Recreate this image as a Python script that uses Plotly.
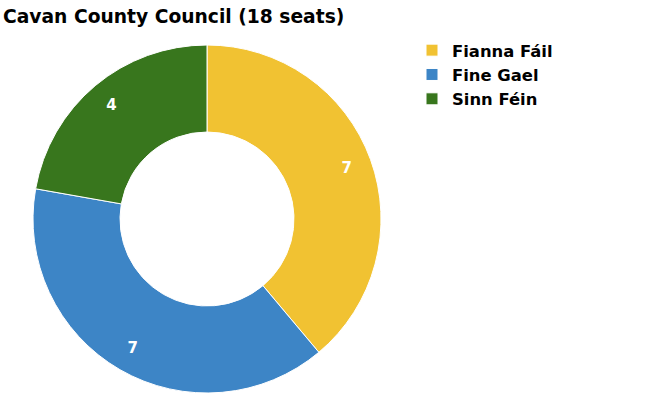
import plotly.graph_objects as go

parties = ["Fianna Fáil", "Fine Gael", "Sinn Féin"]
seats = [7, 7, 4]
colors = ["#F1C232", "#3D85C6", "#38761D"]
title = "Cavan County Council (18 seats)"

W, H = 650, 397
cx, cy, R = 207, 219, 174
dom = dict(x=[(cx - R) / W, (cx + R) / W], y=[(H - cy - R) / H, (H - cy + R) / H])
FONT = "DejaVu Sans"

fig = go.Figure()
fig.add_trace(go.Pie(
    labels=parties, values=seats, hole=0.5, sort=False,
    direction="clockwise", rotation=0,
    marker=dict(colors=colors, line=dict(color="white", width=1)),
    textinfo="none", domain=dom, hoverinfo="label+value",
))
# label layer: same slices, drawn transparent, so the numbers sit further out
fig.add_trace(go.Pie(
    labels=parties, values=seats, hole=0.71, sort=False,
    direction="clockwise", rotation=0,
    marker=dict(colors=["rgba(0,0,0,0)"] * len(parties), line=dict(width=0)),
    textinfo="value", textposition="inside", insidetextorientation="horizontal",
    textfont=dict(family=FONT, size=15, color="white", weight="bold"),
    domain=dom, hoverinfo="skip", showlegend=False,
))

fig.update_layout(
    width=W, height=H,
    margin=dict(l=0, r=0, t=0, b=0),
    paper_bgcolor="white",
    title=dict(text="<b>" + title + "</b>", x=3 / W, xanchor="left", y=1 - 16 / H, yanchor="middle",
               font=dict(family=FONT, size=18.7, color="black")),
    legend=dict(x=412 / W, xanchor="left", y=1 - 33 / H, yanchor="top",
                font=dict(family=FONT, size=16.4, color="black", weight="bold")),
    showlegend=True,
)

fig.write_html("out.html", config={"displayModeBar": False},
               post_script="document.body.style.margin='0px';")
